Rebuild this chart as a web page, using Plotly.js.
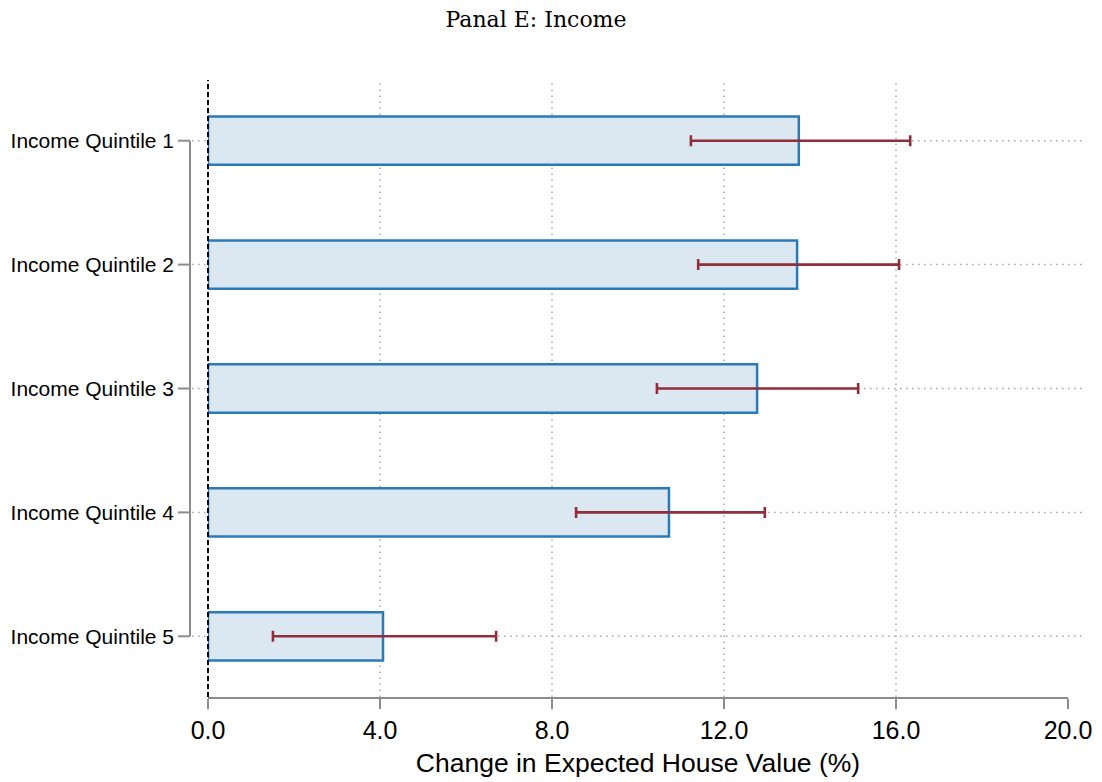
<!DOCTYPE html>
<html>
<head>
<meta charset="utf-8">
<script src="https://cdn.plot.ly/plotly-3.0.1.min.js"></script>
<style>html,body{margin:0;padding:0;background:#fff}#chart{width:1102px;height:782px}</style>
</head>
<body>
<div id="chart"></div>
<script>
const categories = ["Income Quintile 1", "Income Quintile 2", "Income Quintile 3", "Income Quintile 4", "Income Quintile 5"];
const estimates = [13.74, 13.70, 12.77, 10.72, 4.07];
const ciLow = [11.23, 11.40, 10.44, 8.56, 1.51];
const ciHigh = [16.33, 16.07, 15.12, 12.95, 6.70];
const xTickVals = [0, 4, 8, 12, 16, 20];
const xTickText = ["0.0", "4.0", "8.0", "12.0", "16.0", "20.0"];
const gridVals = [4, 8, 12, 16];
const refLineX = 0;

const plotLeft = 208, plotRight = 1068;
const pw = plotRight - plotLeft;
const px = p => (p - plotLeft) / pw;

const shapes = [];
const dotLine = {color:'#a8a8a8', width:1.5, dash:'1.5px,4.5px'};
// horizontal dotted gridlines
categories.forEach(c => shapes.push({type:'line', xref:'paper', yref:'y', x0:px(192), x1:px(1084), y0:c, y1:c,
  line:dotLine, layer:'below'}));
// vertical dotted gridlines
gridVals.forEach(v => shapes.push({type:'line', xref:'x', yref:'paper', x0:v, x1:v, y0:0, y1:1,
  line:dotLine, layer:'below'}));
// y-axis line (only between first and last category)
shapes.push({type:'line', xref:'paper', yref:'y', x0:px(190), x1:px(190), y0:categories[0], y1:categories[categories.length-1],
  line:{color:'#8c8c8c', width:2}});
// y ticks
categories.forEach(c => shapes.push({type:'line', xref:'paper', yref:'y', x0:px(178), x1:px(190), y0:c, y1:c,
  line:{color:'#8c8c8c', width:2}}));
// dashed zero line (paper-referenced so it is not clipped at the plot edge)
shapes.push({type:'line', xref:'paper', yref:'paper', x0:refLineX, x1:refLineX, y0:0, y1:1,
  line:{color:'#000', width:2, dash:'5px,3px'}, layer:'above'});

const bars = {
  type:'bar', orientation:'h', y:categories, x:estimates, width:0.39,
  marker:{color:'#dbe7f1', line:{color:'#2a7ab9', width:2.5}},
  error_x:{type:'data', symmetric:false,
    array: ciHigh.map((h,i)=>h-estimates[i]),
    arrayminus: estimates.map((e,i)=>e-ciLow[i]),
    color:'#8e2f3b', thickness:2.6, width:5.5},
  hoverinfo:'none', showlegend:false
};

const layout = {
  width:1102, height:782,
  margin:{l:208, r:34, t:80, b:85},
  paper_bgcolor:'#fff', plot_bgcolor:'rgba(0,0,0,0)',
  font:{family:'"Liberation Sans", Arial, sans-serif', color:'#000'},
  title:{text:'Panal E: Income', x:536/1102, xanchor:'center', y:1-19/782, yanchor:'middle',
    font:{family:'"DejaVu Serif", "Liberation Serif", serif', size:22, color:'#000'}},
  xaxis:{range:[0,20], tickvals:xTickVals, ticktext:xTickText, showgrid:false, zeroline:false,
    showline:true, linecolor:'#8c8c8c', linewidth:2, ticks:'outside', ticklen:10, tickwidth:2, tickcolor:'#8c8c8c',
    tickfont:{size:25}, title:{text:'Change in Expected House Value (%)', font:{size:26.5}, standoff:10}},
  yaxis:{type:'category', categoryorder:'array', categoryarray:categories, autorange:false,
    range:[4.49,-0.49], showgrid:false, zeroline:false, showline:false, ticks:'',
    tickfont:{size:21}, ticklabelstandoff:33},
  shapes:shapes,
  bargap:0
};

Plotly.newPlot('chart', [bars], layout, {displayModeBar:false, staticPlot:true});
</script>
</body>
</html>
